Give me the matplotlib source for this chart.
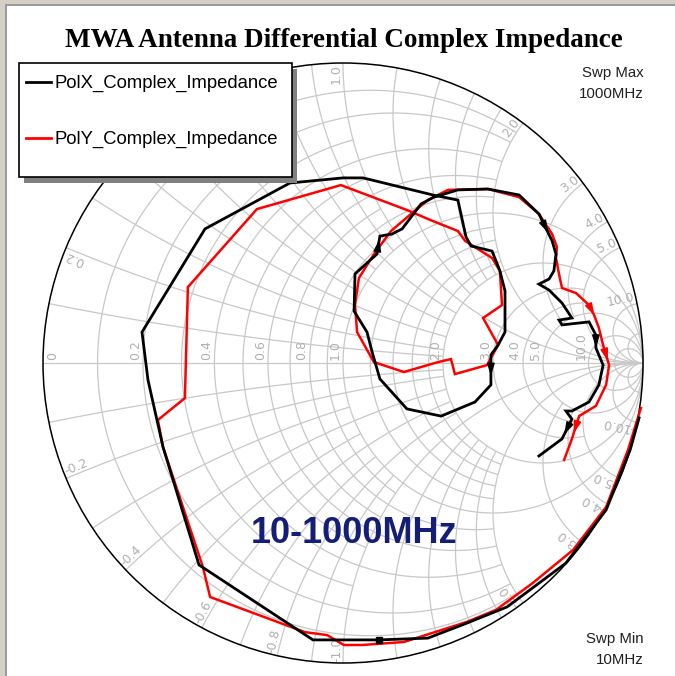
import numpy as np
import matplotlib
matplotlib.use("Agg")
import matplotlib.pyplot as plt
from matplotlib.patches import Rectangle, Circle
from matplotlib.lines import Line2D

# ---------------- data: reflection coefficient (Gamma) traces, 10 MHz -> 1000 MHz
polx_re = [0.987, 0.957, 0.877, 0.743, 0.547, 0.413, 0.283, 0.120, -0.100, -0.480,
           -0.600, -0.650, -0.670, -0.460, -0.177, 0.000, 0.067, 0.300, 0.383, 0.410,
           0.427, 0.497, 0.523, 0.540, 0.540, 0.517, 0.493, 0.493, 0.440, 0.327,
           0.213, 0.123, 0.097, 0.080, 0.037, 0.040, 0.113, 0.123, 0.163, 0.197,
           0.260, 0.303, 0.383, 0.483, 0.587, 0.653, 0.697, 0.710, 0.703, 0.687,
           0.653, 0.687, 0.730, 0.763, 0.720, 0.730, 0.820, 0.843, 0.843, 0.867,
           0.853, 0.820, 0.763, 0.743, 0.763, 0.730, 0.653]
polx_im = [-0.183, -0.290, -0.490, -0.667, -0.813, -0.867, -0.917, -0.923, -0.923, -0.673,
           -0.280, -0.057, 0.103, 0.447, 0.600, 0.617, 0.617, 0.560, 0.543, 0.420,
           0.390, 0.373, 0.307, 0.240, 0.103, 0.060, 0.027, -0.073, -0.130, -0.177,
           -0.153, -0.053, 0.037, 0.103, 0.173, 0.297, 0.363, 0.423, 0.430, 0.447,
           0.530, 0.553, 0.577, 0.580, 0.560, 0.497, 0.407, 0.363, 0.307, 0.280,
           0.263, 0.243, 0.200, 0.150, 0.143, 0.127, 0.137, 0.093, 0.050, -0.007,
           -0.073, -0.130, -0.160, -0.160, -0.187, -0.253, -0.310]

poly_re = [0.993, 0.950, 0.877, 0.767, 0.633, 0.510, 0.413, 0.203, 0.063, 0.003,
           -0.053, -0.127, -0.443, -0.467, -0.600, -0.617, -0.527, -0.517, -0.287, -0.007,
           0.213, 0.300, 0.383, 0.407, 0.497, 0.523, 0.530, 0.467, 0.517, 0.480,
           0.373, 0.360, 0.317, 0.203, 0.103, 0.047, 0.040, 0.053, 0.103, 0.160,
           0.227, 0.283, 0.350, 0.483, 0.587, 0.653, 0.697, 0.713, 0.710, 0.720,
           0.730, 0.777, 0.820, 0.837, 0.853, 0.867, 0.887, 0.877, 0.843, 0.810,
           0.787, 0.763, 0.737]
poly_im = [-0.150, -0.290, -0.480, -0.623, -0.733, -0.823, -0.863, -0.930, -0.940, -0.940,
           -0.907, -0.897, -0.780, -0.680, -0.280, -0.190, -0.117, 0.253, 0.513, 0.593,
           0.510, 0.473, 0.440, 0.407, 0.350, 0.307, 0.193, 0.150, 0.060, -0.007,
           -0.037, 0.013, 0.003, -0.030, 0.003, 0.103, 0.193, 0.283, 0.363, 0.440,
           0.497, 0.543, 0.577, 0.580, 0.553, 0.497, 0.430, 0.387, 0.350, 0.297,
           0.250, 0.233, 0.193, 0.160, 0.117, 0.060, -0.007, -0.073, -0.143, -0.163,
           -0.177, -0.253, -0.323]

series_names = ["PolX_Complex_Impedance", "PolY_Complex_Impedance"]
series_colors = ["#000000", "#ff0000"]
polx_arrow_segments = [26, 36, 45, 57, 64]
poly_arrow_segments = [52, 55, 60]
polx_marker_index = 7

resistance_labels = [0.2, 0.4, 0.6, 0.8, 1.0, 2.0, 3.0, 4.0, 5.0, 10.0]
reactance_labels = [0.2, 0.4, 0.6, 0.8, 1.0, 2.0, 3.0, 4.0, 5.0, 10.0]

# grid: (value, extent of the other coordinate)
INF = 1e6
grid_r = [(0.1, 2), (0.2, 2), (0.3, 1), (0.4, 2), (0.5, 1), (0.6, 2), (0.7, 1), (0.8, 2),
          (0.9, 1), (1.0, INF), (1.2, 2), (1.4, 2), (1.6, 2), (1.8, 2), (2.0, INF),
          (3.0, 5), (4.0, 5), (5.0, INF), (10.0, INF), (20.0, INF)]
grid_x = [(0.1, 2), (0.2, 2), (0.3, 1), (0.4, 2), (0.5, 1), (0.6, 2), (0.7, 1), (0.8, 2),
          (0.9, 1), (1.0, INF), (1.2, 2), (1.4, 2), (1.6, 2), (1.8, 2), (2.0, INF),
          (3.0, 5), (4.0, 5), (5.0, INF), (10.0, INF), (20.0, INF)]

# ---------------- figure layout (pixels)
W, H = 675, 676
CX, CY, RAD = 343, 363, 300

fig = plt.figure(figsize=(W / 100, H / 100), dpi=100)
fig.patch.set_facecolor("white")
ax = fig.add_axes([0, 0, 1, 1])
ax.set_xlim(-CX / RAD, (W - CX) / RAD)
ax.set_ylim(-(H - CY) / RAD, CY / RAD)
ax.set_aspect("equal", adjustable="box")
ax.axis("off")


def fx(px):
    return px / W


def fy(py):
    return 1 - py / H


def gamma(z):
    return (z - 1) / (z + 1)


grid_kw = dict(color="#c8c8c8", lw=0.9, zorder=1, solid_capstyle="butt")

# constant-resistance circles
for r, xm in grid_r:
    xs = np.tan(np.linspace(-np.arctan(xm), np.arctan(xm), 700))
    g = gamma(r + 1j * xs)
    ax.plot(g.real, g.imag, **grid_kw)

# constant-reactance arcs
for x, rm in grid_x:
    rs = np.tan(np.linspace(0, np.arctan(rm), 500))
    for s in (1, -1):
        g = gamma(rs + 1j * s * x)
        ax.plot(g.real, g.imag, **grid_kw)

ax.plot([-1, 1], [0, 0], **grid_kw)
ax.add_patch(Circle((0, 0), 1.0, fill=False, ec="black", lw=1.1, zorder=3))

# axis labels
lab_kw = dict(color="#b0b0b0", fontsize=9, family="DejaVu Sans", rotation_mode="anchor", zorder=2)
ax.text(-1 + 0.012, 0.01, "0", rotation=90, ha="left", va="top", **lab_kw)
for r in resistance_labels:
    gx = (r - 1) / (r + 1)
    ax.text(gx - 0.004, 0.01, f"{r:.1f}", rotation=90, ha="left", va="bottom", **lab_kw)

for x in reactance_labels:
    for s in (1, -1):
        xv = s * x
        p = gamma(1j * xv) * 0.995
        d_in = 2 / (1 + 1j * xv) ** 2
        if s > 0:
            ang = np.degrees(np.angle(-d_in))
            ha = "right"
        else:
            ang = np.degrees(np.angle(d_in))
            ha = "left"
        txt = f"{xv:.1f}"
        ax.text(p.real, p.imag, txt, rotation=ang, ha=ha, va="bottom", **lab_kw)

# ---------------- traces
traces = [(poly_re, poly_im, series_colors[1], 1.8, poly_arrow_segments),
          (polx_re, polx_im, series_colors[0], 2.0, polx_arrow_segments)]
for k, (gr, gi, col, lw, arrows) in enumerate(traces):
    gr = np.asarray(gr)
    gi = np.asarray(gi)
    ax.plot(gr, gi, color=col, lw=lw, zorder=5 + k, solid_joinstyle="miter")
    for i in arrows:
        p0 = np.array([gr[i], gi[i]])
        p1 = np.array([gr[i + 1], gi[i + 1]])
        u = (p1 - p0) / np.hypot(*(p1 - p0))
        mid = 0.5 * (p0 + p1)
        ax.annotate("", xy=mid + 0.02 * u, xytext=mid - 0.02 * u,
                    arrowprops=dict(arrowstyle="-|>,head_length=0.7,head_width=0.22",
                                    color=col, lw=1.2, shrinkA=0, shrinkB=0),
                    zorder=6 + k)

ax.plot(polx_re[polx_marker_index], polx_im[polx_marker_index], "s", color="black",
        ms=4.5, zorder=8)

# ---------------- annotations
fig.text(fx(344), fy(47), "MWA Antenna Differential Complex Impedance",
         family="Liberation Serif", weight="bold", fontsize=19.5, ha="center", va="baseline")
fig.text(fx(644), fy(77), "Swp Max", family="Liberation Sans", fontsize=10.8, ha="right",
         va="baseline", color="#202020")
fig.text(fx(644), fy(98), "1000MHz", family="Liberation Sans", fontsize=10.8, ha="right",
         va="baseline", color="#202020")
fig.text(fx(644), fy(643), "Swp Min", family="Liberation Sans", fontsize=10.8, ha="right",
         va="baseline", color="#202020")
fig.text(fx(644), fy(664), "10MHz", family="Liberation Sans", fontsize=10.8, ha="right",
         va="baseline", color="#202020")
fig.text(fx(354), fy(543), "10-1000MHz", family="Liberation Sans", weight="bold",
         fontsize=26, ha="center", va="baseline", color="#141e78")

# legend box with drop shadow
fig.add_artist(Rectangle((fx(24), fy(183)), (292 - 19) / W, (177 - 63) / H,
                         transform=fig.transFigure, fc="#808080", ec="none", zorder=20))
fig.add_artist(Rectangle((fx(19), fy(177)), (292 - 19) / W, (177 - 63) / H,
                         transform=fig.transFigure, fc="white", ec="black", lw=1.2, zorder=21))
for j, (name, col) in enumerate(zip(series_names, series_colors)):
    ly = 82 + 56 * j
    fig.add_artist(Line2D([fx(26), fx(51)], [fy(ly), fy(ly)], transform=fig.transFigure,
                          color=col, lw=2.0, zorder=22))
    fig.text(fx(54), fy(ly + 6), name, family="Liberation Sans", fontsize=13.3,
             ha="left", va="baseline", color="black", zorder=22)

# window frame
fig.add_artist(Rectangle((0, fy(H)), fx(5), 1, transform=fig.transFigure,
                         fc="#d4d0c8", ec="none", zorder=30))
fig.add_artist(Rectangle((0, fy(4)), 1, 4 / H, transform=fig.transFigure,
                         fc="#d4d0c8", ec="none", zorder=30))
fig.add_artist(Rectangle((fx(5), fy(H)), 2 / W, 1 - 4 / H, transform=fig.transFigure,
                         fc="#9a9a9a", ec="none", zorder=30))
fig.add_artist(Rectangle((fx(5), fy(6)), 1, 2 / H, transform=fig.transFigure,
                         fc="#9a9a9a", ec="none", zorder=30))

fig.savefig("out.png", dpi=100, facecolor="white")
